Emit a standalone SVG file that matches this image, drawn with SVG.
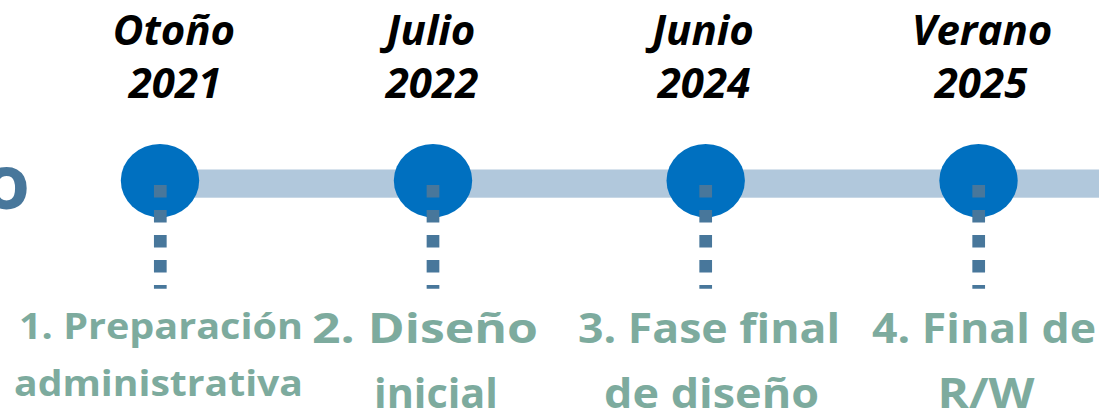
<svg xmlns="http://www.w3.org/2000/svg" width="1099" height="415" viewBox="0 0 1099 415">
<style>
.dot{fill:#0070c0;}
.bar{fill:#b1c8dc;}
.lead{stroke:#48779b;stroke-width:12.7;stroke-dasharray:12.5 12.5;fill:none;}
.date{font-family:"Open Sans","Liberation Sans",sans-serif;font-weight:700;font-style:italic;font-size:42px;fill:#000;text-anchor:middle;}
.lbl{font-family:"Open Sans","Liberation Sans",sans-serif;font-weight:700;font-size:42px;fill:#7dab9e;text-anchor:middle;}
.lbl1{font-size:36px;}
.frag{font-family:"Open Sans","Liberation Sans",sans-serif;font-weight:700;font-size:76px;fill:#48779b;text-anchor:end;}
</style>
<rect width="1099" height="415" fill="#ffffff"/>
<text class="frag" x="30" y="209">o</text>
<g id="timeline">
<rect class="bar" x="160" y="169.5" width="939" height="28.2"/>
</g>
<g id="node-1">
<ellipse class="dot" cx="160" cy="180.6" rx="39.2" ry="36.6"/>
<text class="date" x="174" y="45">Otoño</text>
<text class="date" x="175" y="98">2021</text>
<text class="lbl lbl1" x="161" y="339" textLength="284" lengthAdjust="spacingAndGlyphs">1. Preparación</text>
<text class="lbl lbl1" x="158.5" y="396" textLength="289" lengthAdjust="spacingAndGlyphs">administrativa</text>
</g>
<g id="node-2">
<ellipse class="dot" cx="433" cy="180.6" rx="39.2" ry="36.6"/>
<text class="date" x="431" y="45">Julio</text>
<text class="date" x="432" y="98">2022</text>
<text class="lbl" x="425" y="343" textLength="226" lengthAdjust="spacingAndGlyphs">2. Diseño</text>
<text class="lbl" x="436" y="408" textLength="124" lengthAdjust="spacingAndGlyphs">inicial</text>
</g>
<g id="node-3">
<ellipse class="dot" cx="705.7" cy="180.6" rx="39.2" ry="36.6"/>
<text class="date" x="703" y="45">Junio</text>
<text class="date" x="704" y="98">2024</text>
<text class="lbl" x="709" y="343" textLength="262" lengthAdjust="spacingAndGlyphs">3. Fase final</text>
<text class="lbl" x="711.5" y="408" textLength="215" lengthAdjust="spacingAndGlyphs">de diseño</text>
</g>
<g id="node-4">
<ellipse class="dot" cx="978.5" cy="180.6" rx="39.2" ry="36.6"/>
<text class="date" x="982" y="45">Verano</text>
<text class="date" x="981" y="98">2025</text>
<text class="lbl" x="984" y="343" textLength="224" lengthAdjust="spacingAndGlyphs">4. Final de</text>
<text class="lbl" x="986" y="408" textLength="97" lengthAdjust="spacingAndGlyphs">R/W</text>
</g>
<g id="connectors">
<line class="lead" x1="160.3" y1="185" x2="160.3" y2="288.7"/>
<line class="lead" x1="433" y1="185" x2="433" y2="288.7"/>
<line class="lead" x1="705.7" y1="185" x2="705.7" y2="288.7"/>
<line class="lead" x1="978.7" y1="185" x2="978.7" y2="288.7"/>
</g>
</svg>
